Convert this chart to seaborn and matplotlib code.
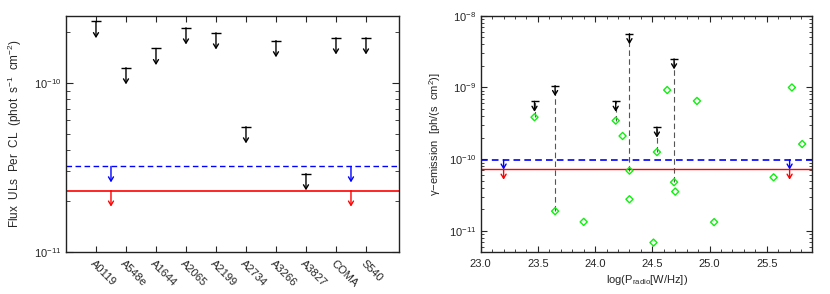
import numpy as np
import pandas as pd
import matplotlib
matplotlib.use("Agg")
import matplotlib.pyplot as plt
import seaborn as sns
from matplotlib.ticker import LogLocator, NullFormatter, MultipleLocator, FixedLocator

# ---------------- data ----------------
clusters = ['A0119', 'A548e', 'A1644', 'A2065', 'A2199', 'A2734', 'A3266', 'A3827', 'COMA', 'S540']
flux_ul = [2.31e-10, 1.23e-10, 1.60e-10, 2.12e-10, 1.98e-10, 5.5e-11, 1.78e-10, 2.9e-11, 1.85e-10, 1.85e-10]
left_blue_level = 3.2e-11
left_red_level = 2.3e-11
left_stack_x = [1.5, 9.5]

ul_logp = [23.47, 23.65, 24.18, 24.30, 24.54, 24.69]
ul_flux = [6.4e-10, 1.06e-9, 6.4e-10, 5.6e-9, 2.8e-10, 2.5e-9]
ul_low = [3.85e-10, 1.89e-11, 3.45e-10, 6.94e-11, 1.26e-10, 4.79e-11]

pred_logp = [23.47, 23.65, 23.90, 24.18, 24.24, 24.30, 24.30, 24.51, 24.54, 24.63,
             24.69, 24.70, 24.89, 25.04, 25.56, 25.72, 25.81]
pred_flux = [3.85e-10, 1.89e-11, 1.34e-11, 3.45e-10, 2.11e-10, 6.94e-11, 2.77e-11, 6.9e-12,
             1.26e-10, 9.2e-10, 4.79e-11, 3.54e-11, 6.49e-10, 1.33e-11, 5.6e-11, 1.0e-9, 1.63e-10]
right_blue_level = 9.8e-11
right_red_level = 7.25e-11
right_stack_x = [23.2, 25.7]

# ---------------- style ----------------
sns.set_style("ticks")
plt.rcParams['font.family'] = ['Liberation Sans', 'DejaVu Sans']
plt.rcParams['mathtext.fontset'] = 'custom'
plt.rcParams['mathtext.rm'] = 'Liberation Sans'
plt.rcParams['mathtext.it'] = 'Liberation Sans'
plt.rcParams['axes.linewidth'] = 1.0
plt.rcParams['axes.edgecolor'] = '#222222'

fig = plt.figure(figsize=(8.30, 2.94), dpi=100)
ax1 = fig.add_axes([0.0795, 0.1439, 0.4012, 0.8027])
ax2 = fig.add_axes([0.5792, 0.1439, 0.3997, 0.8027])

FS = 8


def ul_arrow(ax, x, y, length, color='black', lw=1.0, cap=True, capw=7):
    if cap:
        ax.plot([x], [y], marker='_', markersize=capw, color=color, mew=lw, zorder=4)
    ax.annotate('', xy=(x, y), xycoords='data', xytext=(0, -length), textcoords='offset points',
                arrowprops=dict(arrowstyle='<-,head_length=0.3,head_width=0.18', color=color,
                                lw=lw, shrinkA=0, shrinkB=0), zorder=4)


# ---------------- left panel ----------------
xs = np.arange(1, len(clusters) + 1)
df1 = pd.DataFrame({'x': xs, 'flux': flux_ul})
sns.scatterplot(data=df1, x='x', y='flux', ax=ax1, marker='_', s=45, color='black',
                linewidth=1.0, zorder=4)
for x, f in zip(xs, flux_ul):
    ul_arrow(ax1, x, f, 12, cap=False)
ax1.set_yscale('log')
ax1.set_ylim(1e-11, 2.5e-10)
ax1.set_xlim(0, 11.1)
ax1.axhline(left_blue_level, color='#0000ff', ls=(0, (4, 2.5)), lw=1.0)
ax1.axhline(left_red_level, color='#ff0000', lw=1.2)
for sx in left_stack_x:
    ul_arrow(ax1, sx, left_blue_level, 11.5, color='#0000ff', cap=False)
    ul_arrow(ax1, sx, left_red_level, 11.5, color='#ff0000', cap=False)

ax1.set_xticks(xs)
ax1.set_xticklabels(clusters, rotation=-45, ha='left', va='top', rotation_mode='anchor', fontsize=FS)
ax1.yaxis.set_major_locator(FixedLocator([1e-11, 1e-10]))
ax1.yaxis.set_minor_locator(LogLocator(base=10, subs=np.arange(2, 10)))
ax1.yaxis.set_minor_formatter(NullFormatter())
ax1.tick_params(axis='both', which='both', direction='in', top=True, right=True, labelsize=FS)
ax1.tick_params(axis='x', which='major', length=4, pad=5)
ax1.tick_params(axis='y', which='major', length=5)
ax1.tick_params(axis='y', which='minor', length=3)
ax1.set_xlabel('')
ax1.set_ylabel('Flux  ULs  Per  CL  (phot  s$^{-1}$  cm$^{-2}$)', fontsize=8.5, labelpad=7)

# ---------------- right panel ----------------
for x, lo, hi in zip(ul_logp, ul_low, ul_flux):
    ax2.vlines(x, lo, hi, colors='#555555', linestyles=(0, (5, 3)), lw=0.8, zorder=2)
df2 = pd.DataFrame({'logp': pred_logp, 'flux': pred_flux})
sns.scatterplot(data=df2, x='logp', y='flux', ax=ax2, marker='D', s=13, facecolor='none',
                edgecolor='#11ee11', linewidth=1.0, zorder=5)
for x, f in zip(ul_logp, ul_flux):
    ul_arrow(ax2, x, f, 7.5, capw=6)
ax2.set_yscale('log')
ax2.set_ylim(5.15e-12, 1e-8)
ax2.set_xlim(23.0, 25.9)
ax2.axhline(right_blue_level, color='#0000ff', ls=(0, (4, 2.5)), lw=1.2)
ax2.axhline(right_red_level, color='#ff0000', lw=1.0)
for sx in right_stack_x:
    ul_arrow(ax2, sx, right_blue_level, 7.0, color='#0000ff', cap=False)
    ul_arrow(ax2, sx, right_red_level, 7.5, color='#ff0000', cap=False)

ax2.xaxis.set_major_locator(MultipleLocator(0.5))
ax2.xaxis.set_minor_locator(MultipleLocator(0.1))
ax2.xaxis.set_major_formatter(matplotlib.ticker.FormatStrFormatter('%.1f'))
ax2.yaxis.set_major_locator(FixedLocator([1e-11, 1e-10, 1e-9, 1e-8]))
ax2.yaxis.set_minor_locator(LogLocator(base=10, subs=np.arange(2, 10)))
ax2.yaxis.set_minor_formatter(NullFormatter())
ax2.tick_params(axis='both', which='both', direction='in', top=True, right=True, labelsize=FS)
ax2.tick_params(axis='both', which='major', length=4)
ax2.tick_params(axis='both', which='minor', length=2.5)
ax2.tick_params(axis='x', which='major', pad=5)
ax2.set_xlabel('log(P$_{\\mathrm{radio}}$[W/Hz])', fontsize=FS, labelpad=3)
ax2.set_ylabel('\u03b3\u2212emission  [ph/(s  cm$^{2}$)]', fontsize=FS, labelpad=4)

fig.savefig('out.png', dpi=100)
